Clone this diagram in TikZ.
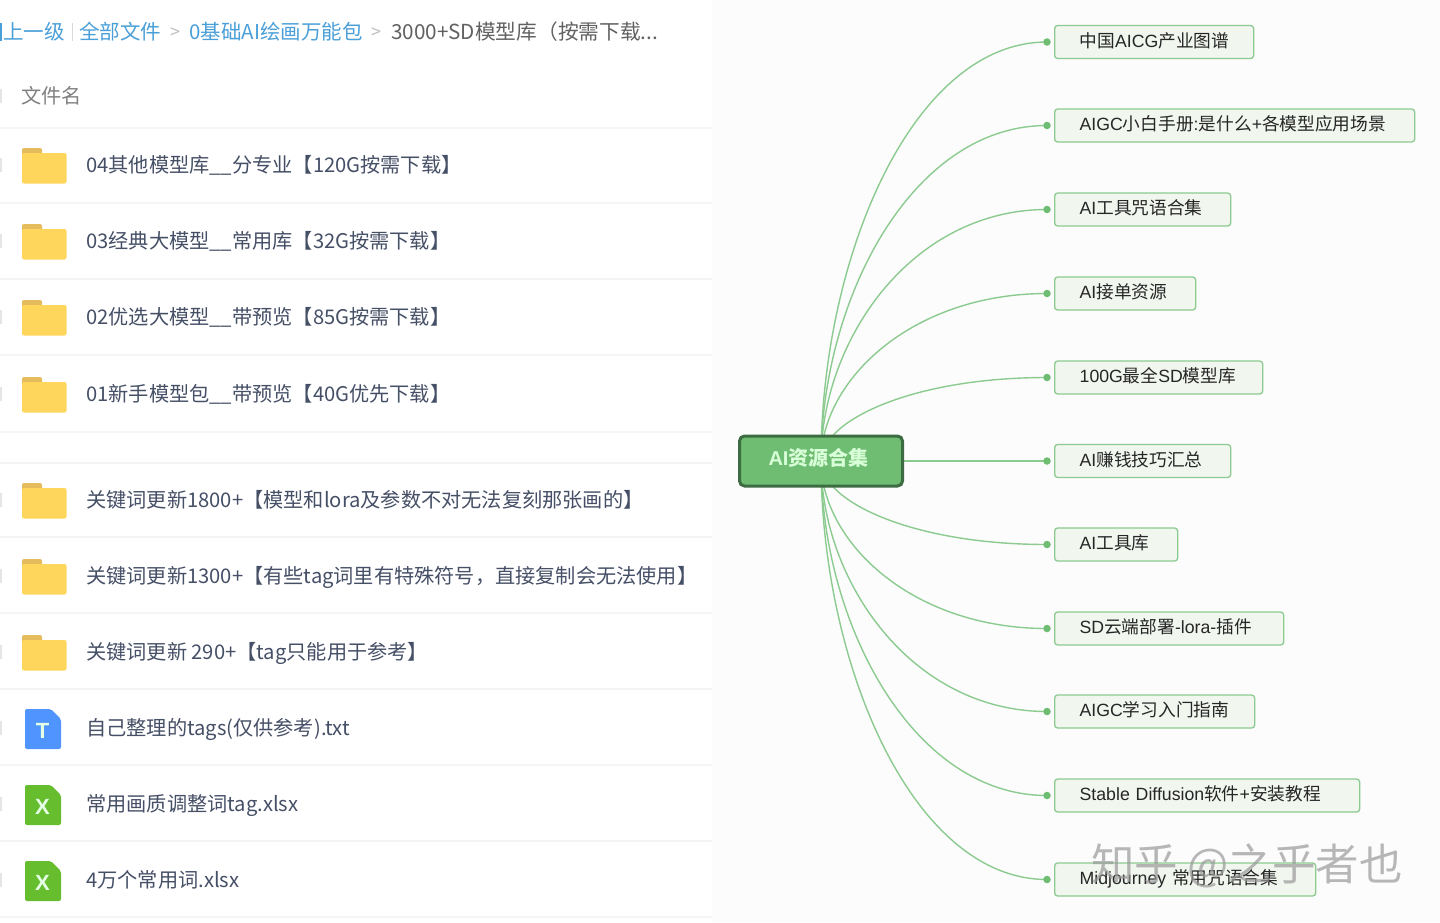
\documentclass[tikz,border=0pt]{standalone}
\usepackage{fontspec}
\setmainfont{Noto Sans CJK SC}
\newfontfamily\latfont{Liberation Sans}
\newcommand{\lat}[1]{{\latfont #1}}
\usetikzlibrary{calc}
\definecolor{crumb}{HTML}{4A9FD8}
\definecolor{rowtext}{HTML}{454F66}
\definecolor{rowline}{HTML}{F3F4F6}
\definecolor{branch}{HTML}{8CCB90}
\definecolor{leaffill}{HTML}{F1F6EF}
\definecolor{rootfill}{HTML}{6EBD72}
\definecolor{rootedge}{HTML}{3D6C43}
\definecolor{foldertab}{HTML}{E5BC5C}
\definecolor{folderbody}{HTML}{FFD65C}
\definecolor{txticon}{HTML}{4F94FF}
\definecolor{xlsicon}{HTML}{66BE2E}
\pgfdeclarelayer{panel}
\pgfdeclarelayer{wires}
\pgfsetlayers{panel,wires,main}
\tikzset{
  crumbtxt/.style={anchor=west, inner sep=0pt, text=crumb, text height=18pt, text depth=2.5pt,
                   font=\fontsize{20.5}{24}\selectfont},
  crumbsep/.style={anchor=center, inner sep=0pt, text=black!25, font=\fontsize{18}{22}\selectfont},
  filetxt/.style={anchor=west, inner sep=0pt, text=rowtext, text height=17.8pt, text depth=2.5pt,
                  font=\fontsize{20.2}{24}\selectfont},
  root/.style={draw=rootedge, fill=rootfill, line width=3pt, rounded corners=5pt,
               minimum width=163pt, minimum height=50pt, inner sep=0pt, text=white!85!green,
               text height=15pt, text depth=5.8pt,
               font=\fontsize{20}{24}\selectfont\bfseries},
  leaf/.style={anchor=west, draw=branch, fill=leaffill, line width=1.3pt, rounded corners=3pt,
               minimum height=33pt, inner xsep=25pt, inner ysep=0pt, text=black!85,
               text height=14.5pt, text depth=4.1pt, font=\fontsize{17.7}{21}\selectfont},
  knob/.style={circle, fill=rootfill, minimum size=7.5pt, inner sep=0pt},       % branch end
  wire/.style={draw=branch, line width=1.4pt},                                  % branch
  iconmark/.style={inner sep=0pt, text=white!90!green, font=\fontsize{22}{24}\selectfont\latfont\bfseries},
}

\begin{document}
\begin{tikzpicture}[x=1pt, y=-1pt]
  \useasboundingbox (0,0) rectangle (1440,922);
  \begin{pgfonlayer}{panel}
    \fill[white] (0,0) rectangle (712,922);
    \fill[black!1] (712,0) rectangle (1440,922);
    \foreach \y in {128,203,279,355,432,463,537,613,689,765,841,917}
      \draw[rowline, line width=1.5pt] (0,\y)--(712,\y);
    \foreach \y in {96,165,241,317,394,500,576,652,728,804,880}
      \fill[black!10] (0,\y-7) rectangle (2,\y+7);
  \end{pgfonlayer}

  % breadcrumb
  \fill[crumb] (0,23) rectangle (1.5,41);
  \node[crumbtxt] (up) at (3,32) {上一级};
  \draw[black!15] (72,23)--(72,41);
  \node[crumbtxt] (all) at (79,32) {全部文件};
  \node[crumbsep] (gt1) at (175,33) {>};
  \node[crumbtxt] (base) at (189,32) {0基础AI绘画万能包};
  \node[crumbsep] (gt2) at (376,33) {>};
  \node[crumbtxt, text=black!62, font=\fontsize{20.7}{24}\selectfont] (here) at (391,32) {3000+SD模型库（按需下载...};
  \node[filetxt, text=black!50] (head) at (21,96) {文件名};

  % folders
  \foreach \n/\y in {1/165,2/241,3/317,4/394,5/500,6/576,7/652}{
    \fill[foldertab, rounded corners=2pt] (22,\y-17) rectangle (42,\y-6);
    \fill[folderbody, rounded corners=2pt] (22,\y-12) rectangle (66.5,\y+18.5);
  }
  \foreach \n/\y/\txt in {
      1/165/{04其他模型库\_\_分专业【120G按需下载】},
      2/241/{03经典大模型\_\_常用库【32G按需下载】},
      3/317/{02优选大模型\_\_带预览【85G按需下载】},
      4/394/{01新手模型包\_\_带预览【40G优先下载】},
      5/500/{关键词更新1800+【模型和lora及参数不对无法复刻那张画的】},
      6/576/{关键词更新1300+【有些tag词里有特殊符号，直接复制会无法使用】},
      7/652/{关键词更新 290+【tag只能用于参考】},
      8/728/{自己整理的tags(仅供参考).txt},
      9/804/{常用画质调整词tag.xlsx},
      10/880/{4万个常用词.xlsx}}
    \node[filetxt] (file\n) at (86,\y) {\txt};

  % file icons
  \foreach \n/\y/\col/\mark in {8/729/txticon/T,9/805/xlsicon/X,10/881/xlsicon/X}{
    \fill[\col, rounded corners=2pt] (25,\y-20) -- (51,\y-20) -- (61,\y-10) -- (61,\y+20) -- (25,\y+20) -- cycle;
    \node[iconmark] (icon\n) at (42.5,\y+2) {\mark};
  }

  % mind map
  \node[root] (hubnode) at (821,461) {\hspace{-5pt}\lat{AI}资源合集};
  \foreach \n/\y/\w/\txt in {
      1/42/199/{中国\lat{AICG}产业图谱},
      2/125.5/360/{\lat{AIGC}小白手册\lat{:}是什么\lat{+}各模型应用场景},
      3/209.5/176/{\lat{AI}工具咒语合集},
      4/293.5/141/{\lat{AI}接单资源},
      5/377.5/208/{\lat{100G}最全\lat{SD}模型库},
      6/461/176/{\lat{AI}赚钱技巧汇总},
      7/544.5/123/{\lat{AI}工具库},
      8/628.5/229/{\lat{SD}云端部署\lat{-lora-}插件},
      9/711.5/200/{\lat{AIGC}学习入门指南},
      10/795.5/305/{\lat{Stable Diffusion}软件\lat{+}安装教程},
      11/879.5/261/{\lat{Midjourney} 常用咒语合集}}{
    \node[leaf, text width=\w pt-50pt] (leaf\n) at (1054,\y) {\txt};
    \node[knob] (knob\n) at (1047,\y) {};
    \begin{pgfonlayer}{wires}
      \draw[wire] (hubnode.center)
        .. controls ($(hubnode.center)!.48!(hubnode.center |- knob\n)$)
        and ($(knob\n.center)!.6!(hubnode.center |- knob\n)$) .. (knob\n.center);
    \end{pgfonlayer}
  }

  \node[inner sep=0pt, text=black!40, opacity=.7, font=\fontsize{43.5}{48}\selectfont] (mark) at (1247,866) {知乎 @之乎者也};
\end{tikzpicture}
\end{document}
